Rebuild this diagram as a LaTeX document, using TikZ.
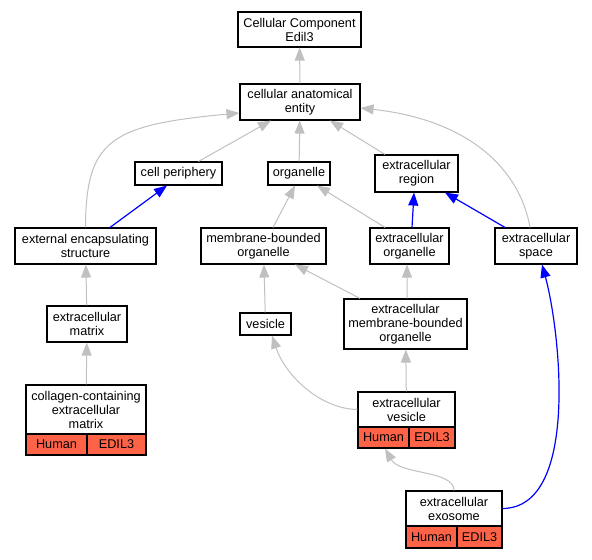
\documentclass[tikz,border=0pt]{standalone}
\usepackage{fontspec}
\setmainfont{Liberation Sans}
\usetikzlibrary{arrows.meta}
\definecolor{edgegray}{HTML}{C0C0C0}
\definecolor{edgeblue}{HTML}{0000FF}
\definecolor{cellred}{HTML}{FF6347}
\begin{document}
\begin{tikzpicture}[x=1bp,y=-1bp,
  termbox/.style={draw=black,line width=1.1bp,fill=white,align=center,inner sep=0pt,
    font=\fontsize{12.7bp}{14bp}\selectfont},
  redcell/.style={termbox,fill=cellred},
  isa/.style={draw=edgegray,line width=1bp,-{Triangle[length=13bp,width=10bp]}},
  partof/.style={draw=edgeblue,line width=1.2bp,-{Triangle[length=13bp,width=10bp]}}]
\useasboundingbox (0,0) rectangle (592,560);
% nodes
\node[termbox,minimum width=123bp,minimum height=35bp] (cc) at (299.5,29.5) {Cellular Component\\Edil3};
\node[termbox,minimum width=120bp,minimum height=36bp] (cae) at (300,102) {cellular anatomical\\entity};
\node[termbox,minimum width=87bp,minimum height=23bp] (cp) at (178.5,173.5) {cell periphery};
\node[termbox,minimum width=62bp,minimum height=23bp] (org) at (299,173.5) {organelle};
\node[termbox,minimum width=83bp,minimum height=37bp] (er) at (416.5,173.5) {extracellular\\region};
\node[termbox,minimum width=141bp,minimum height=36bp] (ees) at (85.5,246) {external encapsulating\\structure};
\node[termbox,minimum width=125bp,minimum height=36bp] (mbo) at (263.5,246) {membrane-bounded\\organelle};
\node[termbox,minimum width=79bp,minimum height=36bp] (eo) at (409.5,246) {extracellular\\organelle};
\node[termbox,minimum width=82bp,minimum height=36bp] (es) at (536,246) {extracellular\\space};
\node[termbox,minimum width=80bp,minimum height=36bp] (em) at (87,324) {extracellular\\matrix};
\node[termbox,minimum width=51bp,minimum height=22bp] (ves) at (265.5,324) {vesicle};
\node[termbox,minimum width=123bp,minimum height=50bp] (emb) at (405.5,324) {extracellular\\membrane-bounded\\organelle};
% annotated nodes
\node[termbox,minimum width=120bp,minimum height=49bp] (col) at (86,409.5) {collagen-containing\\extracellular\\matrix};
\node[redcell,minimum width=61bp,minimum height=21bp] (colh) at (56.5,444.5) {Human};
\node[redcell,minimum width=59bp,minimum height=21bp] (cole) at (116.5,444.5) {EDIL3};
\node[termbox,minimum width=97bp,minimum height=35bp] (ev) at (406.5,409.5) {extracellular\\vesicle};
\node[redcell,minimum width=51bp,minimum height=21bp] (evh) at (383.5,437.5) {Human};
\node[redcell,minimum width=46bp,minimum height=21bp] (eve) at (432,437.5) {EDIL3};
\node[termbox,minimum width=96bp,minimum height=35bp] (exo) at (454,508.5) {extracellular\\exosome};
\node[redcell,minimum width=51bp,minimum height=22bp] (exoh) at (431.5,537) {Human};
\node[redcell,minimum width=45bp,minimum height=22bp] (exoe) at (479.5,537) {EDIL3};
% edges
\draw[isa] (cae) -- (cc);
\draw[isa] ([xshift=20bp]cp.north) -- ([xshift=-29bp]cae.south);
\draw[isa] (org) -- (cae);
\draw[isa] ([xshift=-31.5bp]er.north) -- ([xshift=30bp]cae.south);
\draw[isa] (ees.north) .. controls (86,140) and (110,125) .. ([yshift=-11bp]cae.west);
\draw[isa] ([xshift=-6bp]es.north) .. controls (520,170) and (470,120) .. ([yshift=-6bp]cae.east);
\draw[partof] ([xshift=24.5bp]ees.north) -- ([xshift=-11.5bp]cp.south);
\draw[isa] ([xshift=9.5bp]mbo.north) -- ([xshift=-4bp]org.south);
\draw[isa] ([xshift=-24.5bp]eo.north) -- ([xshift=18bp]org.south);
\draw[partof] ([xshift=2.5bp]eo.north) -- ([xshift=-2.5bp]er.south);
\draw[partof] ([xshift=-31bp]es.north) -- ([xshift=28.5bp]er.south);
\draw[isa] (em) -- (ees);
\draw[isa] (ves) -- (mbo);
\draw[isa] ([xshift=-45.5bp]emb.north) -- ([xshift=31.5bp]mbo.south);
\draw[isa] ([xshift=1.5bp]emb.north) -- ([xshift=-2.5bp]eo.south);
\draw[isa] (col) -- (em);
\draw[isa] (ev.west) .. controls (320,409) and (285,375) .. ([xshift=6.5bp]ves.south);
\draw[isa] (ev) -- (emb);
\draw[isa] (exo.north) .. controls (454,470) and (400,475) .. ([xshift=1.5bp]evh.south);
\draw[partof] (exo.east) .. controls (580,508) and (560,330) .. ([xshift=6bp]es.south);
\end{tikzpicture}
\end{document}
